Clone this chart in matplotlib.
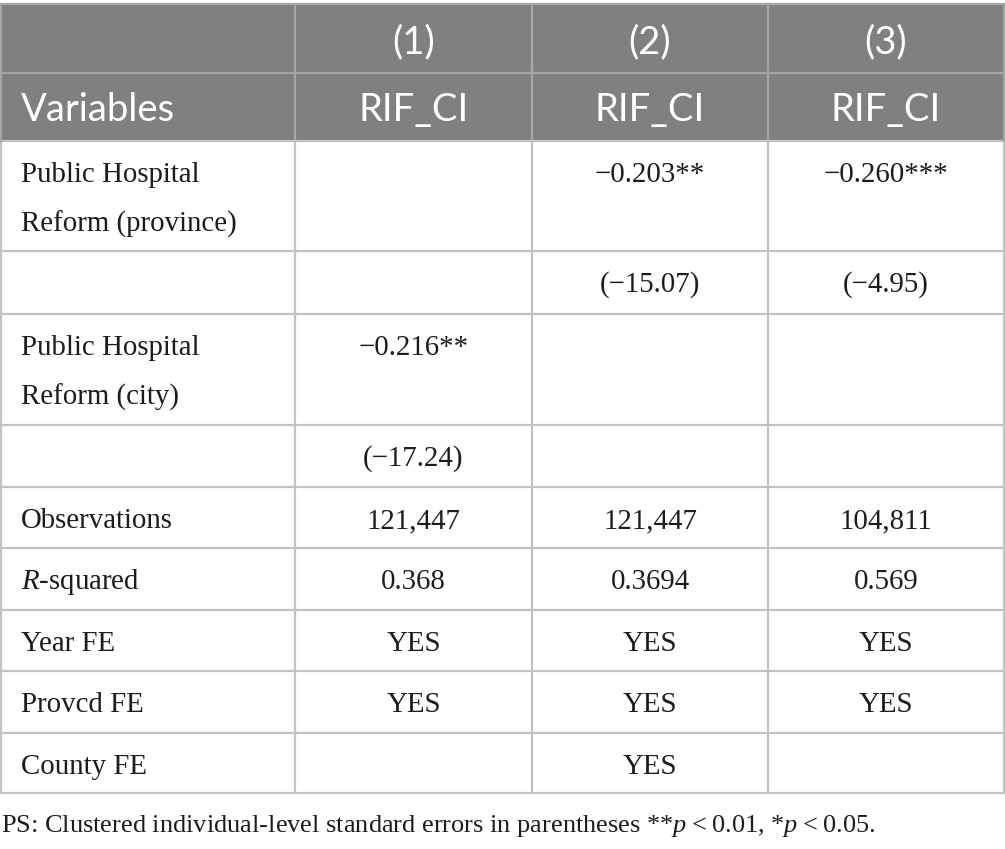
import matplotlib
matplotlib.use("Agg")
import matplotlib.pyplot as plt

plt.rcParams['mathtext.fontset'] = 'custom'
plt.rcParams['mathtext.rm'] = 'Liberation Serif'
plt.rcParams['mathtext.it'] = 'Liberation Serif:italic'

# ---- data ----
col_numbers = ["(1)", "(2)", "(3)"]
col_names = ["RIF_CI", "RIF_CI", "RIF_CI"]
header_label = "Variables"
row_labels = ["Public Hospital\nReform (province)", "", "Public Hospital\nReform (city)", "",
              "Observations", "$R$-squared", "Year FE", "Provcd FE", "County FE"]
col1 = ["", "", "\u22120.216**", "(\u221217.24)", "121,447", "0.368", "YES", "YES", ""]
col2 = ["\u22120.203**", "(\u221215.07)", "", "", "121,447", "0.3694", "YES", "YES", "YES"]
col3 = ["\u22120.260***", "(\u22124.95)", "", "", "104,811", "0.569", "YES", "YES", ""]
footnote = "PS: Clustered individual-level standard errors in parentheses **$p$\u2009<\u20090.01, *$p$\u2009<\u20090.05."

# ---- layout (pixels) ----
W, H = 1005, 849
fig = plt.figure(figsize=(W / 100, H / 100), dpi=100)
ax = fig.add_axes([0, 0, 1, 1])
ax.set_xlim(0, W)
ax.set_ylim(H, 0)
ax.axis('off')

xb = [1, 295, 532, 768, 1004]
hdr = [4, 73, 141]
row_h = [110, 63, 111, 62, 61, 62, 61, 62, 60]
yb = [141]
for h in row_h:
    yb.append(yb[-1] + h)

header_bg = '#7f8080'
header_line = '#a6a6a6'
grid = '#c2c2c2'
txt = '#1c1c1c'
serif = 'Liberation Serif'
sans = 'Lato'
fs_head = 27.5
fs_body = 20.8

ax.add_patch(plt.Rectangle((xb[0], hdr[0]), xb[-1] - xb[0], hdr[2] - hdr[0],
                           facecolor=header_bg, edgecolor='none', zorder=1))
# header lines
ax.plot([xb[0], xb[-1]], [hdr[1], hdr[1]], color=header_line, lw=1.6, zorder=2)
ax.plot([xb[0], xb[-1]], [hdr[0], hdr[0]], color=header_line, lw=1.6, zorder=2)
for x in xb[1:-1]:
    ax.plot([x, x], [hdr[0], hdr[2]], color=header_line, lw=1.6, zorder=2)

# body lines
for y in yb:
    ax.plot([xb[0], xb[-1]], [y, y], color=grid, lw=1.6, zorder=2)
for x in xb:
    ax.plot([x, x], [yb[0], yb[-1]], color=grid, lw=1.6, zorder=2)
for x in (xb[0], xb[-1]):
    ax.plot([x, x], [hdr[0], hdr[2]], color=header_line, lw=1.6, zorder=2)

# header text
centers = [(xb[i] + xb[i + 1]) / 2 for i in range(1, 4)]
for cx, n, name in zip(centers, col_numbers, col_names):
    ax.text(cx, (hdr[0] + hdr[1]) / 2 + 4, n, ha='center', va='center',
            color='white', fontsize=fs_head, family=sans, zorder=3)
    ax.text(cx, (hdr[1] + hdr[2]) / 2 + 3, name, ha='center', va='center',
            color='white', fontsize=fs_head, family=sans, zorder=3)
ax.text(21, (hdr[1] + hdr[2]) / 2 + 3, header_label, ha='left', va='center',
        color='white', fontsize=fs_head, family=sans, zorder=3)

# body text
line_gap = 49
for i, lab in enumerate(row_labels):
    top = yb[i]
    yc = top + 34
    lines = lab.split("\n")
    for k, ln in enumerate(lines):
        ax.text(21, yc + k * line_gap, ln, ha='left', va='center',
                fontsize=fs_body, family=serif, color=txt, zorder=3)
    for cx, col in zip(centers, (col1, col2, col3)):
        if col[i]:
            ax.text(cx, yc, col[i], ha='center', va='center',
                    fontsize=fs_body, family=serif, color=txt, zorder=3)

ax.text(1, 826, footnote, ha='left', va='center', fontsize=19,
        family=[serif, 'DejaVu Serif'], color=txt, zorder=3)

fig.savefig('out.png', dpi=100, facecolor='white')
